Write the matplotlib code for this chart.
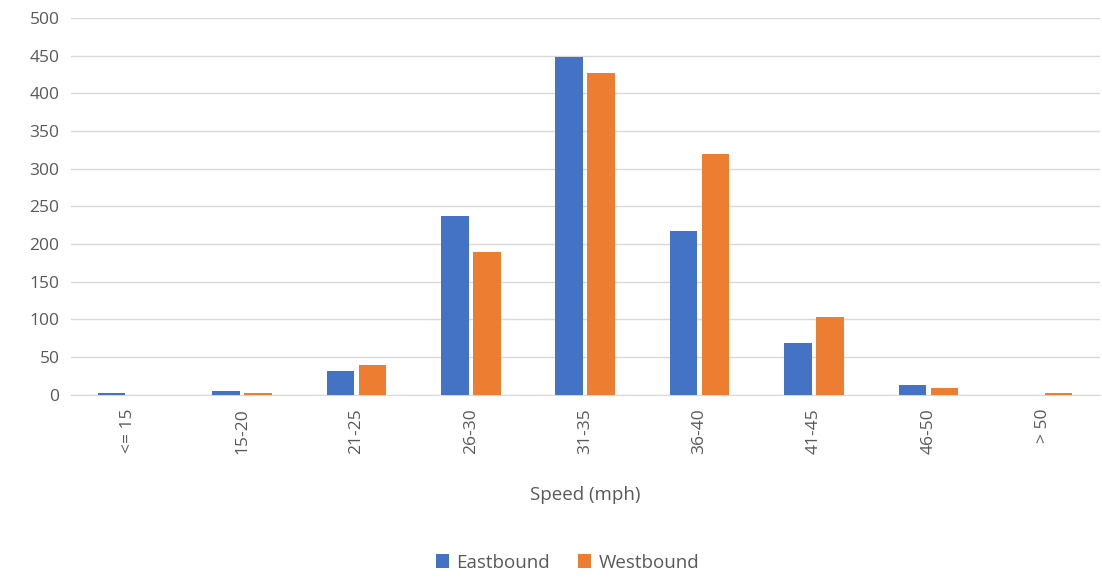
import numpy as np
import matplotlib.pyplot as plt

categories = ["<= 15", "15-20", "21-25", "26-30", "31-35", "36-40", "41-45", "46-50", "> 50"]
eastbound = [2, 5, 32, 237, 448, 217, 69, 13, 0]
westbound = [0, 2, 40, 190, 427, 320, 103, 9, 2]

BLUE = "#4472C4"
ORANGE = "#ED7D31"
TXT = "#595959"

plt.rcParams['font.family'] = ['Open Sans', 'DejaVu Sans']

fig = plt.figure(figsize=(11.02, 5.78), dpi=100)
ax = fig.add_axes([0.064, 0.317, 0.934, 0.652])

x = np.arange(len(categories))
w = 0.24
ax.bar(x - 0.14, eastbound, w, color=BLUE, label="Eastbound", zorder=3)
ax.bar(x + 0.14, westbound, w, color=ORANGE, label="Westbound", zorder=3)

ax.set_xlim(-0.5, len(categories) - 0.5)
ax.set_ylim(0, 500)
ax.set_yticks(np.arange(0, 501, 50))
ax.set_xticks(x)
ax.set_xticklabels(categories, rotation=90)
ax.tick_params(axis='both', length=0, colors=TXT, labelsize=12.5)
ax.tick_params(axis='x', pad=10)
ax.tick_params(axis='y', pad=8)
ax.grid(axis='y', color="#D9D9D9", lw=1, zorder=0)
for s in ['top', 'right', 'left']:
    ax.spines[s].set_visible(False)
ax.spines['bottom'].set_color("#D9D9D9")

ax.set_xlabel("Speed (mph)", color=TXT, fontsize=13.5, labelpad=23)

fig.legend(loc='lower center', bbox_to_anchor=(0.515, -0.018), ncol=2, frameon=False,
           fontsize=13.5, labelcolor=TXT, handlelength=0.7, handleheight=0.7,
           columnspacing=1.5, handletextpad=0.4)

fig.savefig("out.png", dpi=100)
